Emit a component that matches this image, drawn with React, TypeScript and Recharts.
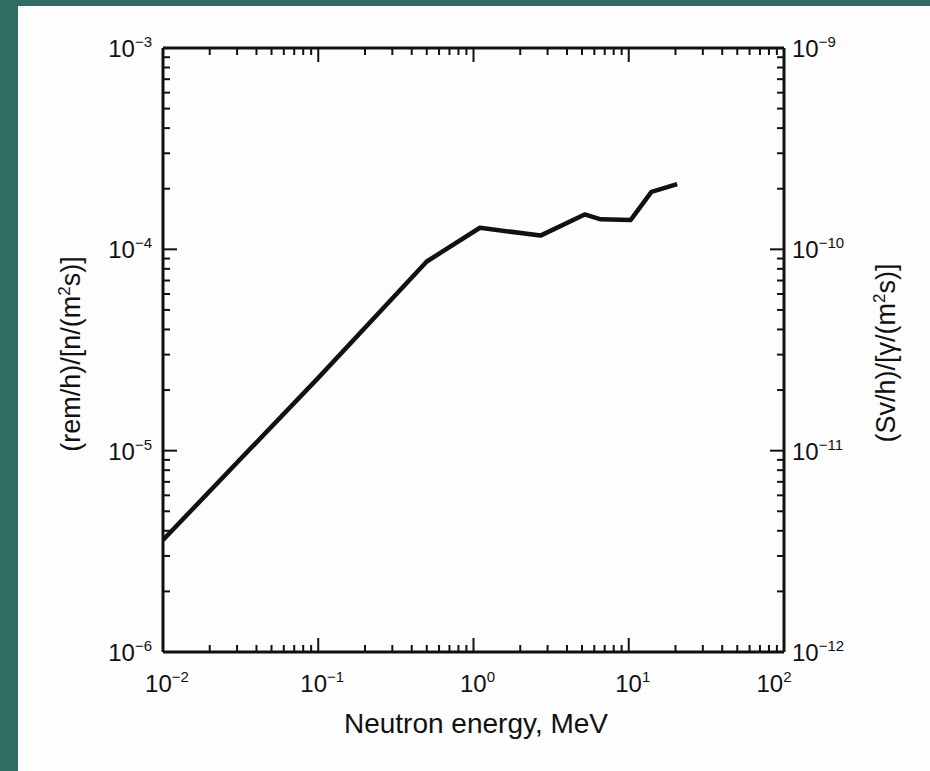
import React from "react";
import { LineChart, Line, XAxis, YAxis } from "recharts";

// neutron energy (MeV) and dose rate per unit flux, (rem/h)/[n/(m2 s)]
const energy = [0.01, 0.1, 0.5, 1.1, 2.7, 5.2, 6.6, 10.3, 14, 20.5];
const dose = [3.6e-6, 2.3e-5, 8.7e-5, 1.28e-4, 1.17e-4, 1.49e-4, 1.41e-4, 1.4e-4, 1.93e-4, 2.11e-4];

const xMajor = [0.01, 0.1, 1, 10, 100];
const xExp = ["\u22122", "\u22121", "0", "1", "2"];
const leftMajor = [1e-6, 1e-5, 1e-4, 1e-3];
const leftExp = ["\u22126", "\u22125", "\u22124", "\u22123"];
const rightMajor = [1e-12, 1e-11, 1e-10, 1e-9];
const rightExp = ["\u221212", "\u221211", "\u221210", "\u22129"];
const minorMult = [2, 3, 4, 5, 6, 7, 8, 9];

const withMinors = (majors: number[]) => {
  const out: number[] = [];
  majors.forEach((m, i) => {
    out.push(m);
    if (i < majors.length - 1) minorMult.forEach((k) => out.push(+(m * k).toPrecision(3)));
  });
  return out;
};

const xTicks = withMinors(xMajor);
const leftTicks = withMinors(leftMajor);
const rightTicks = withMinors(rightMajor);

const data = energy.map((e, i) => ({ e, d: dose[i] }));

const FONT = "'Liberation Sans', Arial, Helvetica, sans-serif";
const INK = "#111";
const MAJOR = 14;
const MINOR = 7;

const Pow = ({ x, y, exp, anchor }: { x: number; y: number; exp: string; anchor: string }) => (
  <text x={x} y={y} textAnchor={anchor} fontSize={24} fontFamily={FONT} fill={INK}>
    10
    <tspan dy={-10} fontSize={15}>
      {exp}
    </tspan>
  </text>
);

const makeTick = (majors: number[], exps: string[], side: "bottom" | "top" | "left" | "right") =>
  (props: any) => {
    const { x, y, payload } = props;
    const idx = majors.indexOf(payload.value);
    const len = idx >= 0 ? MAJOR : MINOR;
    let line;
    if (side === "bottom") line = <line x1={x} x2={x} y1={y} y2={y - len} stroke={INK} strokeWidth={2} />;
    else if (side === "top") line = <line x1={x} x2={x} y1={y} y2={y + len} stroke={INK} strokeWidth={2} />;
    else if (side === "left") line = <line x1={x} x2={x + len} y1={y} y2={y} stroke={INK} strokeWidth={2} />;
    else line = <line x1={x} x2={x - len} y1={y} y2={y} stroke={INK} strokeWidth={2} />;
    let label = null;
    if (idx >= 0 && exps.length) {
      if (side === "bottom")
        label = <Pow x={x + (idx === majors.length - 1 ? -10 : 4)} y={y + 40} exp={exps[idx]} anchor="middle" />;
      else if (side === "left") label = <Pow x={x - 11} y={y + 9} exp={exps[idx]} anchor="end" />;
      else if (side === "right") label = <Pow x={x + 8} y={y + 9} exp={exps[idx]} anchor="start" />;
    }
    return (
      <g>
        {line}
        {label}
      </g>
    );
  };

const axisLine = { stroke: INK, strokeWidth: 3 };

export default function App() {
  return (
    <div style={{ position: "fixed", left: 0, top: 0, width: 930, height: 771, background: "#2f6d64" }}>
      <div style={{ position: "absolute", left: 18, top: 6, right: 0, bottom: 0, background: "#fdfdfd" }} />
      <div style={{ position: "absolute", left: 0, top: 0 }}>
        <LineChart width={930} height={771} data={data} margin={{ top: 28, right: 66, bottom: 69, left: 83 }}>
          <XAxis
            xAxisId="b"
            dataKey="e"
            type="number"
            scale="log"
            domain={[0.01, 100]}
            allowDataOverflow
            ticks={xTicks}
            interval={0}
            tickSize={0}
            tickMargin={0}
            tickLine={false}
            axisLine={axisLine}
            tick={makeTick(xMajor, xExp, "bottom")}
            height={50}
          />
          <XAxis
            xAxisId="t"
            orientation="top"
            dataKey="e"
            type="number"
            scale="log"
            domain={[0.01, 100]}
            allowDataOverflow
            ticks={xTicks}
            interval={0}
            tickSize={0}
            tickMargin={0}
            tickLine={false}
            axisLine={axisLine}
            tick={makeTick(xMajor, [], "top")}
            height={20}
          />
          <YAxis
            yAxisId="l"
            dataKey="d"
            type="number"
            scale="log"
            domain={[1e-6, 1e-3]}
            allowDataOverflow
            ticks={leftTicks}
            interval={0}
            tickSize={0}
            tickMargin={0}
            tickLine={false}
            axisLine={axisLine}
            tick={makeTick(leftMajor, leftExp, "left")}
            width={80}
          />
          <YAxis
            yAxisId="r"
            orientation="right"
            type="number"
            scale="log"
            domain={[1e-12, 1e-9]}
            allowDataOverflow
            ticks={rightTicks}
            interval={0}
            tickSize={0}
            tickMargin={0}
            tickLine={false}
            axisLine={axisLine}
            tick={makeTick(rightMajor, rightExp, "right")}
            width={80}
          />
          <Line
            xAxisId="b"
            yAxisId="l"
            type="linear"
            dataKey="d"
            stroke={INK}
            strokeWidth={4.5}
            strokeLinejoin="round"
            dot={false}
            isAnimationActive={false}
          />
        </LineChart>
      </div>
      <svg width={930} height={771} style={{ position: "absolute", left: 0, top: 0, pointerEvents: "none" }}>
        <text x={476} y={733} textAnchor="middle" fontSize={28} fontFamily={FONT} fill={INK}>
          Neutron energy, MeV
        </text>
        <text
          transform="translate(80 354) rotate(-90)"
          textAnchor="middle"
          fontSize={27}
          fontFamily={FONT}
          fill={INK}
        >
          (rem/h)/[n/(m<tspan dy={-10} fontSize={17}>2</tspan>
          <tspan dy={10}>s)]</tspan>
        </text>
        <text
          transform="translate(895 353) rotate(-90)"
          textAnchor="middle"
          fontSize={27}
          fontFamily={FONT}
          fill={INK}
        >
          (Sv/h)/[γ/(m<tspan dy={-10} fontSize={17}>2</tspan>
          <tspan dy={10}>s)]</tspan>
        </text>
      </svg>
    </div>
  );
}
